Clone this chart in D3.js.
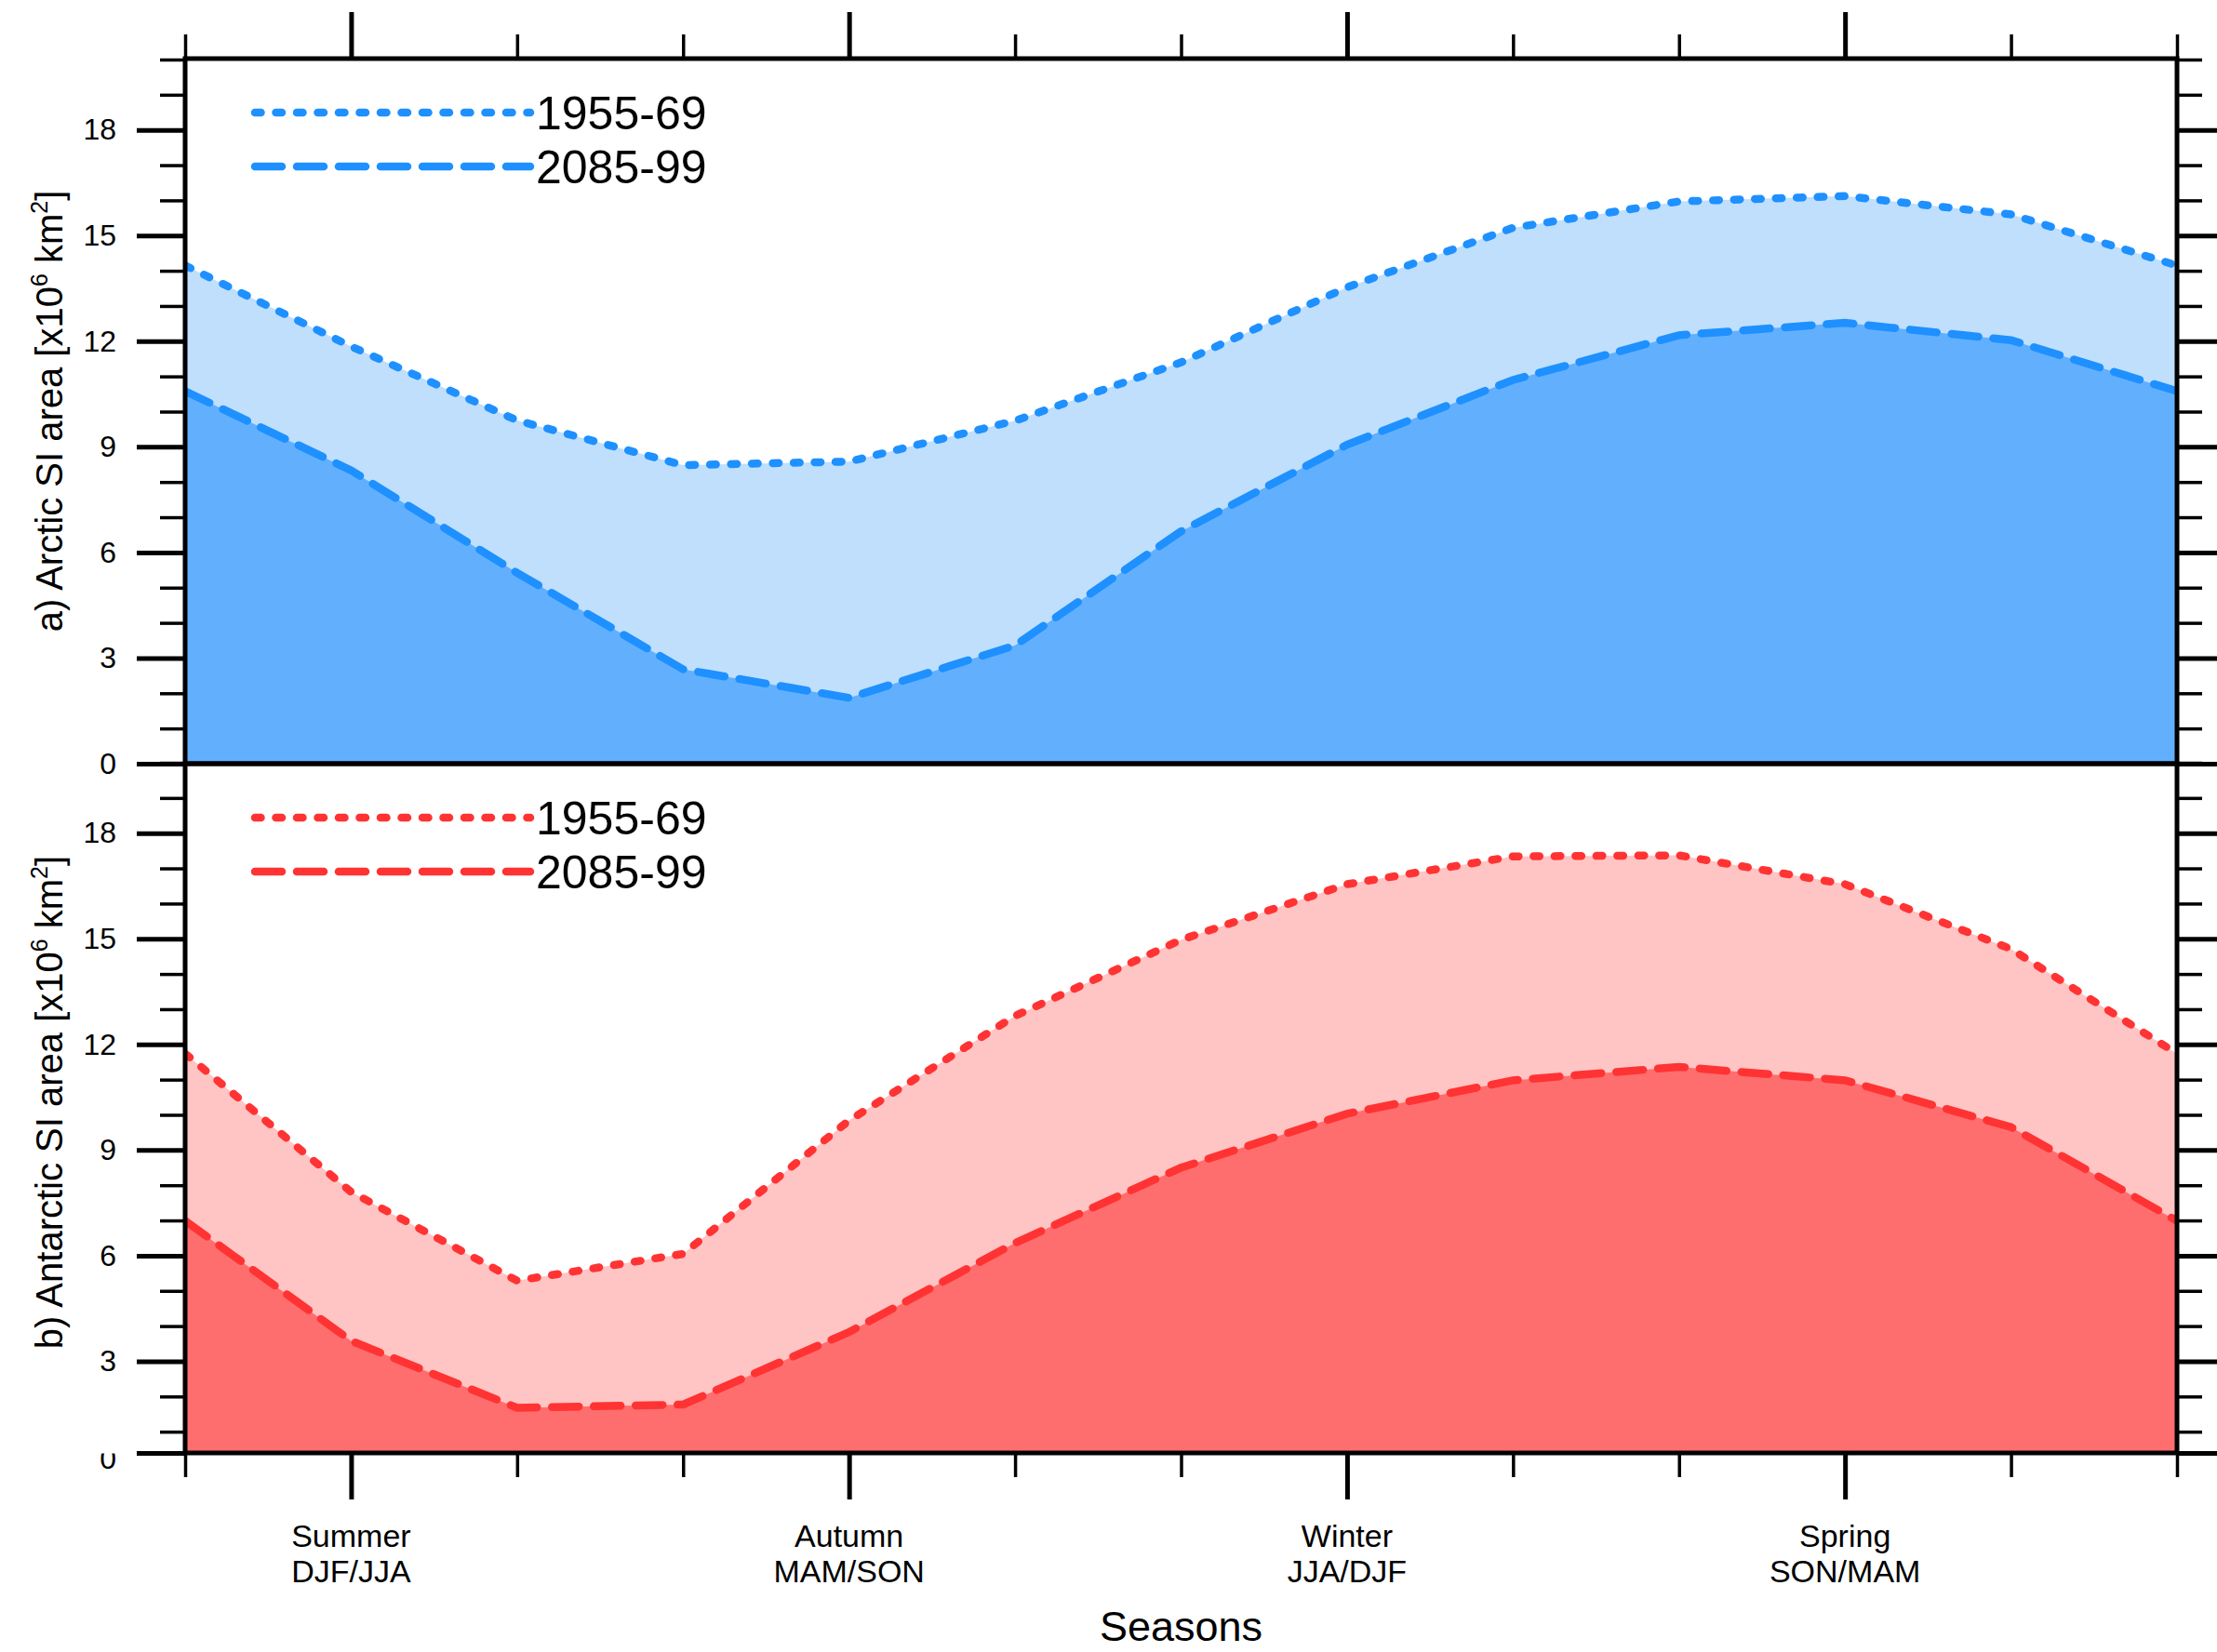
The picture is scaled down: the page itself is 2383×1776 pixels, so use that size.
<!DOCTYPE html>
<html>
<head>
<meta charset="utf-8">
<script src="https://cdn.jsdelivr.net/npm/d3@7"></script>
<style>
  body { margin: 0; background: #fff; }
  text { font-family: "Liberation Sans", Arial, Helvetica, sans-serif; fill: #000; }
</style>
</head>
<body>
<svg id="mainsvg" width="2383" height="1776"></svg>
<script>
// month index 0..12 (cyclic, last = first)
const months = d3.range(13);
const seasonTicks = [1, 4, 7, 10];
const seasonNames = ["Summer", "Autumn", "Winter", "Spring"];
const seasonMonths = ["DJF/JJA", "MAM/SON", "JJA/DJF", "SON/MAM"];
const legendLabels = ["1955-69", "2085-99"];

const arcticEarly = [14.15, 11.85, 9.75, 8.48, 8.58, 9.74, 11.4, 13.53, 15.22, 15.97, 16.12, 15.6, 14.15];
const arcticLate  = [10.58, 8.33, 5.42, 2.68, 1.87, 3.36, 6.6, 9.06, 10.9, 12.17, 12.52, 12.03, 10.58];
const antarcticEarly = [11.74, 7.81, 5.29, 6.05, 9.84, 12.81, 14.97, 16.55, 17.34, 17.37, 16.55, 14.71, 11.74];
const antarcticLate  = [6.99, 3.58, 1.68, 1.77, 3.83, 6.36, 8.5, 10.03, 10.98, 11.36, 10.98, 9.65, 6.99];

const yMajor = [0, 3, 6, 9, 12, 15, 18];
const yMinor = d3.range(1, 21).filter(d => d % 3 !== 0);

const svg = d3.select("#mainsvg");
const left = 199, right = 2340;
const x = d3.scaleLinear().domain([0, 12]).range([left, right]);

const panels = [
  { id: "arctic", top: 63, bottom: 821, zero: 821, early: arcticEarly, late: arcticLate,
    line: "#1e90ff", light: "#bfdffc", dark: "#62b0fd", label: "a) Arctic SI area [x10", tcy: 442 },
  { id: "antarctic", top: 821, bottom: 1562, zero: 1577, early: antarcticEarly, late: antarcticLate,
    line: "#ff3333", light: "#ffc4c4", dark: "#ff6e6e", label: "b) Antarctic SI area [x10", tcy: 1185 }
];

panels.forEach((p, pi) => {
  const y = d3.scaleLinear().domain([0, 20]).range([p.zero, p.zero - 20 * 37.85]);
  const g = svg.append("g").attr("id", p.id);

  g.append("clipPath").attr("id", "clip-" + p.id)
    .append("rect").attr("x", left).attr("y", p.top)
    .attr("width", right - left).attr("height", p.bottom - p.top);

  const plot = g.append("g").attr("clip-path", "url(#clip-" + p.id + ")");

  // light fill under the early curve, dark fill under the late curve
  const areaEarly = d3.area().x(i => x(i)).y0(p.bottom).y1(i => y(p.early[i]));
  const areaLate = d3.area().x(i => x(i)).y0(p.bottom).y1(i => y(p.late[i]));
  plot.append("path").datum(months).attr("d", areaEarly).attr("fill", p.light);
  plot.append("path").datum(months).attr("d", areaLate).attr("fill", p.dark);

  const lineGen = vals => d3.line().x(i => x(i)).y(i => y(vals[i]));
  plot.append("path").datum(months).attr("d", lineGen(p.early))
    .attr("fill", "none").attr("stroke", p.line).attr("stroke-width", 8.5)
    .attr("stroke-linecap", "round").attr("stroke-dasharray", "6.5 16");
  plot.append("path").datum(months).attr("d", lineGen(p.late))
    .attr("fill", "none").attr("stroke", p.line).attr("stroke-width", 8.5)
    .attr("stroke-linecap", "round").attr("stroke-dasharray", "29 16");

  // y axes
  const bottomVal = y.invert(p.bottom);
  const majors = pi === 0 ? yMajor : [bottomVal].concat(yMajor.slice(1));
  const minors = yMinor.filter(d => d > bottomVal + 0.1);

  const axL = g.append("g").attr("transform", `translate(${left},0)`)
    .call(d3.axisLeft(y).tickValues(majors).tickSize(52).tickPadding(22)
      .tickFormat(d => d < 1 ? "0" : d3.format("d")(d)));
  axL.selectAll("text").style("font-size", "32px");
  const axLm = g.append("g").attr("transform", `translate(${left},0)`)
    .call(d3.axisLeft(y).tickValues(minors).tickSize(27).tickFormat(""));
  const axR = g.append("g").attr("transform", `translate(${right},0)`)
    .call(d3.axisRight(y).tickValues(majors).tickSize(52).tickFormat(""));
  const axRm = g.append("g").attr("transform", `translate(${right},0)`)
    .call(d3.axisRight(y).tickValues(minors).tickSize(27).tickFormat(""));
  [axL, axR].forEach(a => a.selectAll("line").attr("stroke-width", 5));
  [axLm, axRm].forEach(a => a.selectAll("line").attr("stroke-width", 3.5));
  [axL, axLm, axR, axRm].forEach(a => a.select(".domain").remove());

  if (pi === 1) {
    // the zero label sits on the frame edge and only its lower half shows
    // (clip rect is in the tick group's local coordinates)
    g.append("clipPath").attr("id", "clip-zero")
      .append("rect").attr("x", -200).attr("y", 0).attr("width", 200).attr("height", 60);
    axL.selectAll(".tick").filter(d => d < 1).select("text")
      .attr("dy", "0.5em")
      .attr("clip-path", "url(#clip-zero)");
  }

  // x axes: top of the upper panel, bottom of the lower panel
  const onTop = pi === 0;
  const xy = onTop ? p.top : p.bottom;
  const xMin = months.filter(d => !seasonTicks.includes(d));
  const axisFn = onTop ? d3.axisTop : d3.axisBottom;
  const axX = g.append("g").attr("transform", `translate(0,${xy})`)
    .call(axisFn(x).tickValues(seasonTicks).tickSize(50).tickFormat(""));
  const axXm = g.append("g").attr("transform", `translate(0,${xy})`)
    .call(axisFn(x).tickValues(xMin).tickSize(26).tickFormat(""));
  axX.selectAll("line").attr("stroke-width", 5);
  axXm.selectAll("line").attr("stroke-width", 3.5);
  [axX, axXm].forEach(a => a.select(".domain").remove());

  // frame
  g.append("rect").attr("x", left).attr("y", p.top)
    .attr("width", right - left).attr("height", p.bottom - p.top)
    .attr("fill", "none").attr("stroke", "#000").attr("stroke-width", 5);

  // y title
  const t = g.append("text")
    .attr("transform", `translate(67,${p.tcy}) rotate(-90)`)
    .attr("text-anchor", "middle").style("font-size", "40px");
  t.append("tspan").text(p.label);
  t.append("tspan").text("6").style("font-size", "25px").attr("dy", -16);
  t.append("tspan").text(" km").attr("dy", 16);
  t.append("tspan").text("2").style("font-size", "25px").attr("dy", -16);
  t.append("tspan").text("]").attr("dy", 16);

  // legend
  const styles = ["6.5 16", "29 16"];
  legendLabels.forEach((lab, li) => {
    const ly = p.top + 58 + li * 58;
    g.append("line").attr("x1", 274).attr("x2", 570).attr("y1", ly).attr("y2", ly)
      .attr("stroke", p.line).attr("stroke-width", 8.5)
      .attr("stroke-linecap", "round").attr("stroke-dasharray", styles[li]);
    g.append("text").attr("x", 576).attr("y", ly).attr("dy", "0.36em")
      .style("font-size", "50px").text(lab);
  });
});

// season labels under the lower panel
const sl = svg.append("g");
seasonTicks.forEach((m, i) => {
  const tx = sl.append("text").attr("text-anchor", "middle").style("font-size", "34px");
  tx.append("tspan").attr("x", x(m)).attr("y", 1663).text(seasonNames[i]);
  tx.append("tspan").attr("x", x(m)).attr("y", 1701).text(seasonMonths[i]);
});

svg.append("text").attr("x", (left + right) / 2).attr("y", 1764)
  .attr("text-anchor", "middle").style("font-size", "45px").text("Seasons");
</script>
</body>
</html>
